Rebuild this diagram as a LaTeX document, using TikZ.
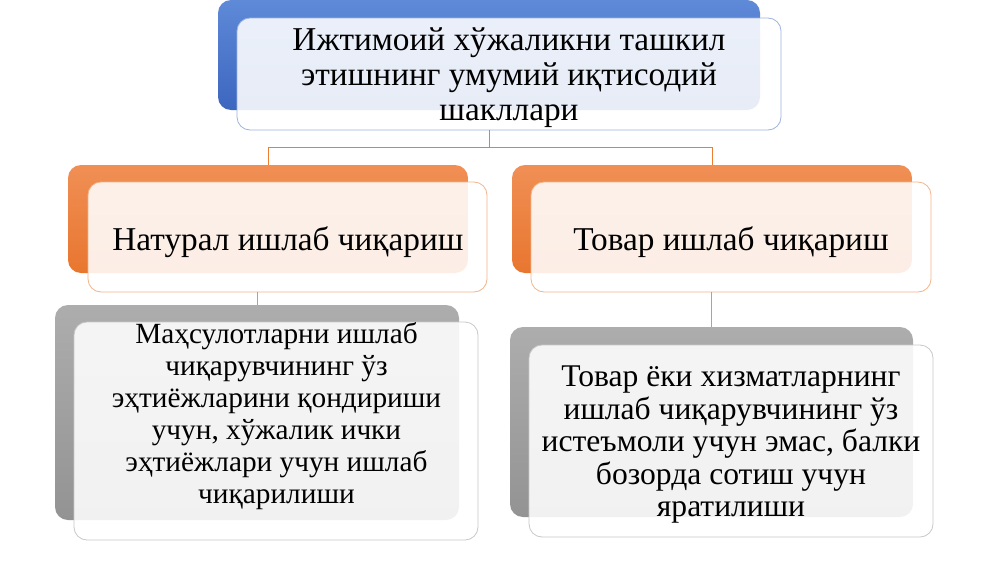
\documentclass[tikz,border=0pt]{standalone}
\usepackage{fontspec}
\setmainfont{Liberation Serif}
\definecolor{blueT}{HTML}{5E8AD8}
\definecolor{blueB}{HTML}{3D66BF}
\definecolor{blueL}{HTML}{9DB3E0}
\definecolor{orT}{HTML}{F08F55}
\definecolor{orB}{HTML}{E8762F}
\definecolor{orL}{HTML}{F4B48A}
\definecolor{orLine}{HTML}{ED7D31}
\definecolor{grT}{HTML}{ADADAD}
\definecolor{grB}{HTML}{939393}
\definecolor{grL}{HTML}{C8C8C8}
\definecolor{grLine}{HTML}{A5A5A5}
\tikzset{
  back/.style={rectangle, rounded corners=13pt, inner sep=0pt},
  bblue/.style={back, top color=blueT, bottom color=blueB},
  borange/.style={back, top color=orT, bottom color=orB},
  bgray/.style={back, top color=grT, bottom color=grB},
  front/.style={rectangle, rounded corners=13pt, fill=white, fill opacity=0.88, line width=0.8pt, inner sep=0pt},
  lbl/.style={align=center, text=black, inner sep=0pt},
  big/.style={lbl, font=\fontsize{33.3}{35}\selectfont},
  smallL/.style={lbl, font=\fontsize{29.3}{32}\selectfont},
  smallR/.style={lbl, font=\fontsize{31.6}{32.5}\selectfont},
  conO/.style={draw=orLine, line width=0.8pt},
  conG/.style={draw=grLine, line width=0.8pt},
}
\begin{document}
\begin{tikzpicture}[x=1pt,y=-1pt]
\useasboundingbox[fill=white] (0,0) rectangle (1000,562);
\coordinate (jt) at (489,147);
% top
\node[bblue, minimum width=542pt, minimum height=110pt] (tb) at (489,55) {};
\node[front, draw=blueL, minimum width=544pt, minimum height=112pt] (tf) at (509,74) {};
% middle
\node[borange, minimum width=400pt, minimum height=108pt] (lob) at (268,219) {};
\node[borange, minimum width=400pt, minimum height=108pt] (rob) at (712,219) {};
\draw[conO] (tb.center |- tf.south) -- (jt);
\draw[conO] (lob.north) -- (lob.north |- jt) -- (rob.north |- jt) -- (rob.north);
\node[front, draw=orL, minimum width=399pt, minimum height=110pt] (lof) at (287.5,237) {};
\node[front, draw=orL, minimum width=400pt, minimum height=110pt] (rof) at (731,237) {};
% bottom
\node[bgray, minimum width=404pt, minimum height=215pt] (lgb) at (257,412.5) {};
\node[bgray, minimum width=403pt, minimum height=190pt] (rgb) at (711.5,422) {};
\draw[conG] (lgb.north |- lof.south) -- (lgb.north);
\draw[conG] (rgb.north |- rof.south) -- (rgb.north);
\node[front, draw=grL, minimum width=404pt, minimum height=218pt] (lgf) at (276,431) {};
\node[front, draw=grL, minimum width=404pt, minimum height=192pt] (rgf) at (731,441) {};
% texts
\node[big] (tt) at (509,78) {Ижтимоий хўжаликни ташкил\\этишнинг умумий иқтисодий\\шакллари};
\node[big, anchor=base] (lot) at (288,250) {Натурал ишлаб чиқариш};
\node[big, anchor=base] (rot) at (731,250) {Товар ишлаб чиқариш};
\node[smallL] (lgt) at (276.5,416) {Маҳсулотларни ишлаб\\чиқарувчининг ўз\\эҳтиёжларини қондириши\\учун, хўжалик ички\\эҳтиёжлари учун ишлаб\\чиқарилиши};
\node[smallR] (rgt) at (731,445) {Товар ёки хизматларнинг\\ишлаб чиқарувчининг ўз\\истеъмоли учун эмас, балки\\бозорда сотиш учун\\яратилиши};
\end{tikzpicture}
\end{document}
